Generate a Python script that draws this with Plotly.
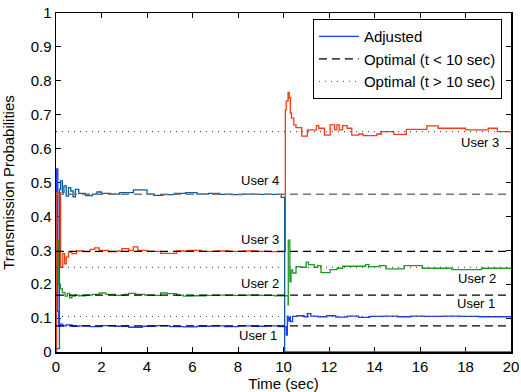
import plotly.graph_objects as go

# ---------------- data ----------------
u1_t = [0, 0.02, 0.08, 0.12, 0.2, 0.3, 0.45, 0.7, 1.0, 1.5, 2.0, 2.6, 3.2, 3.8, 4.4, 5.0, 5.6, 6.2, 6.8, 7.4, 8.0, 8.6, 9.2, 9.8,
        10.12, 10.17, 10.2, 10.25, 10.3, 10.4, 10.6, 10.9, 11.05, 11.2, 11.5, 11.9, 12.3, 12.8, 13.3, 13.8, 14.4, 15.0, 15.6,
        16.2, 17.0, 17.8, 18.6, 19.4, 20]
u1_v = [0.0, 0.54, 0.12, 0.076, 0.082, 0.077, 0.08, 0.076, 0.077, 0.075, 0.078, 0.076, 0.073, 0.076, 0.078, 0.075, 0.074,
        0.076, 0.077, 0.075, 0.077, 0.076, 0.077, 0.075,
        0.05, 0.106, 0.092, 0.102, 0.09, 0.105, 0.107, 0.104, 0.113, 0.106, 0.104, 0.107, 0.103, 0.106, 0.102, 0.105,
        0.106, 0.104, 0.106, 0.105, 0.106, 0.105, 0.104, 0.104, 0.104]

u2_t = [0, 0.02, 0.1, 0.2, 0.28, 0.4, 0.5, 0.6, 0.7, 0.85, 1.0, 1.3, 1.6, 1.9, 2.2, 2.6, 3.0, 3.2, 3.5, 3.9, 4.3, 4.6, 4.9,
        5.3, 5.6, 6.0, 6.6, 7.2, 7.8, 8.4, 9.0, 9.6,
        10.2, 10.21, 10.28, 10.33, 10.4, 10.55, 10.75, 11.0, 11.1, 11.35, 11.5, 11.65, 12.05, 12.35, 12.6, 13.6, 13.75,
        14.2, 14.5, 15.3, 16.1, 17.4, 18.7, 20]
u2_v = [0.0, 0.33, 0.2, 0.186, 0.175, 0.165, 0.173, 0.16, 0.165, 0.168, 0.166, 0.168, 0.17, 0.174, 0.17, 0.167, 0.17,
        0.173, 0.17, 0.168, 0.167, 0.174, 0.172, 0.168, 0.165, 0.166, 0.167, 0.168, 0.167, 0.168, 0.167, 0.166,
        0.139, 0.33, 0.207, 0.242, 0.233, 0.252, 0.25, 0.265, 0.258, 0.25, 0.255, 0.234, 0.243, 0.247, 0.253, 0.258,
        0.252, 0.255, 0.245, 0.255, 0.247, 0.243, 0.247, 0.247]

u3_t = [0, 0.01, 0.14, 0.2, 0.3, 0.38, 0.45, 0.55, 0.7, 0.9, 1.2, 1.5, 1.7, 1.9, 2.3, 2.7, 2.9, 3.2, 3.4, 3.6, 4.0, 4.6,
        5.3, 5.8, 6.4, 7.0, 7.6, 8.2, 8.8, 9.4,
        10.08, 10.12, 10.2, 10.25, 10.3, 10.35, 10.45, 10.55, 10.8, 11.05, 11.45, 11.55, 11.8, 12.05, 12.25, 12.35,
        12.45, 12.6, 12.8, 13.0, 13.3, 13.5, 14.1, 14.3, 14.85, 15.4, 16.3, 16.8, 18.0, 19.0, 19.4, 20]
u3_v = [0.0, 0.47, 0.47, 0.25, 0.29, 0.26, 0.28, 0.295, 0.29, 0.298, 0.296, 0.303, 0.307, 0.3, 0.296, 0.298, 0.305, 0.3,
        0.31, 0.3, 0.297, 0.291, 0.298, 0.3, 0.297, 0.298, 0.297, 0.298, 0.297, 0.296,
        0.714, 0.74, 0.766, 0.75, 0.705, 0.69, 0.67, 0.662, 0.637, 0.655, 0.668, 0.66, 0.64, 0.67, 0.655, 0.67, 0.655,
        0.668, 0.66, 0.64, 0.643, 0.638, 0.643, 0.65, 0.642, 0.657, 0.667, 0.66, 0.655, 0.66, 0.65, 0.65]

u4_t = [0, 0.15, 0.2, 0.28, 0.35, 0.45, 0.55, 0.65, 0.75, 0.85, 1.0, 1.3, 1.6, 1.8, 2.0, 2.4, 2.8, 3.4, 4.0, 4.3, 4.7,
        5.2, 5.7, 6.2, 6.7, 7.2, 7.7, 8.2, 8.7, 9.2, 9.9, 10.05, 20]
u4_v = [0.01, 0.48, 0.505, 0.47, 0.49, 0.46, 0.485, 0.475, 0.458, 0.48, 0.468, 0.461, 0.466, 0.472, 0.468, 0.466, 0.47,
        0.478, 0.466, 0.462, 0.464, 0.468, 0.47, 0.466, 0.468, 0.465, 0.464, 0.466, 0.465, 0.465, 0.456, 0.0, 0.0]

opt_before = [0.077, 0.168, 0.297]   # black dashed
opt_before_u4 = [0.465]              # grey dashed
opt_after = [0.105, 0.25, 0.65]      # dotted
t_span = [0, 20]

labels_left = ["User 4", "User 3", "User 2", "User 1"]
labels_left_t = [8.98, 8.98, 8.98, 8.9]
labels_left_v = [0.505, 0.332, 0.203, 0.05]
labels_right = ["User 3", "User 2", "User 1"]
labels_right_t = [18.63, 18.5, 18.44]
labels_right_v = [0.619, 0.217, 0.142]

x_ticks = list(range(0, 21, 2))
y_ticks = [round(i * 0.1, 1) for i in range(11)]

# ---------------- figure ----------------
FONT = "Liberation Sans, Arial, Helvetica, sans-serif"
fig = go.Figure()

colors = ["#1f3dff", "#229a22", "#ff3a14", "#0c5c9e"]
series = [(u1_t, u1_v), (u2_t, u2_v), (u3_t, u3_v), (u4_t, u4_v)]
for i, (t, v) in enumerate(series):
    fig.add_trace(go.Scatter(x=t, y=v, mode="lines", line=dict(color=colors[i], width=1.3, shape="hv"),
                             name="Adjusted", showlegend=(i == 0), hoverinfo="skip"))


def span_xy(levels):
    xs, ys = [], []
    for lv in levels:
        xs += [t_span[0], t_span[1], None]
        ys += [lv, lv, None]
    return xs, ys


xs, ys = span_xy(opt_before)
fig.add_trace(go.Scatter(x=xs, y=ys, mode="lines", line=dict(color="black", width=1.3, dash="8px,5px"),
                         name="Optimal (t < 10 sec)", hoverinfo="skip"))
xs, ys = span_xy(opt_after)
fig.add_trace(go.Scatter(x=xs, y=ys, mode="lines", line=dict(color="#333333", width=1, dash="1px,5px"),
                         name="Optimal (t > 10 sec)", hoverinfo="skip"))
xs, ys = span_xy(opt_before_u4)
fig.add_trace(go.Scatter(x=xs, y=ys, mode="lines", line=dict(color="#777777", width=1.5, dash="8px,5px"),
                         showlegend=False, hoverinfo="skip"))

for txt, t, v in zip(labels_left + labels_right, labels_left_t + labels_right_t, labels_left_v + labels_right_v):
    fig.add_annotation(x=t, y=v, text=txt, showarrow=False, font=dict(family=FONT, size=13, color="black"),
                       xanchor="center", yanchor="middle")

axis_common = dict(showgrid=False, zeroline=False, showline=True, linecolor="black", linewidth=1.5,
                   mirror="ticks", ticks="inside", ticklen=5, tickcolor="black", tickwidth=1,
                   tickfont=dict(family=FONT, size=15, color="black"), layer="below traces",
                   automargin=False)

fig.update_layout(
    width=521, height=392,
    margin=dict(l=56, r=10, t=13, b=40, autoexpand=False),
    paper_bgcolor="white", plot_bgcolor="white",
    font=dict(family=FONT, size=15, color="black"),
    xaxis=dict(range=[0, 20], tickvals=x_ticks,
               title=dict(text="Time (sec)", font=dict(family=FONT, size=15)), **axis_common),
    yaxis=dict(range=[0, 1], tickvals=y_ticks, ticktext=[("%g" % v) for v in y_ticks],
               title=dict(text="Transmission Probabilities", font=dict(family=FONT, size=15)),
               **axis_common),
    legend=dict(x=0.98, y=0.982, xanchor="right", yanchor="top", bgcolor="white", bordercolor="black",
                borderwidth=1, font=dict(family=FONT, size=15), tracegroupgap=0, itemwidth=40),
    showlegend=True,
    hovermode=False,
)

fig.write_html("out.html", config={"displayModeBar": False, "staticPlot": True},
               post_script="document.body.style.margin='0px';document.body.style.padding='0px';")
